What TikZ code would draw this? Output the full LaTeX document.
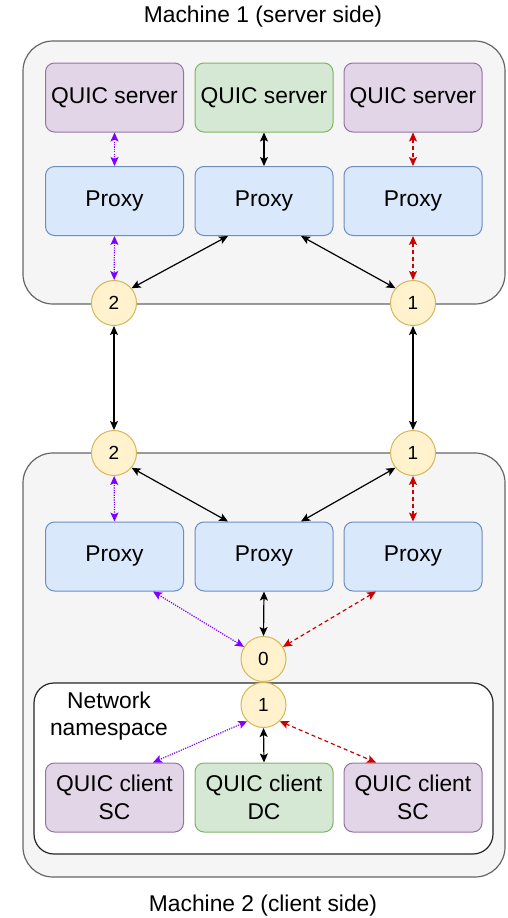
\documentclass[tikz,border=0pt]{standalone}
\usepackage{fontspec}
\setmainfont{Liberation Sans}
\usetikzlibrary{arrows.meta}
\definecolor{machfill}{HTML}{F5F5F5}
\definecolor{machdraw}{HTML}{666666}
\definecolor{purfill}{HTML}{E1D5E7}
\definecolor{purdraw}{HTML}{9673A6}
\definecolor{grnfill}{HTML}{D5E8D4}
\definecolor{grndraw}{HTML}{82B366}
\definecolor{blufill}{HTML}{DAE8FC}
\definecolor{bludraw}{HTML}{6C8EBF}
\definecolor{yelfill}{HTML}{FFF2CC}
\definecolor{yeldraw}{HTML}{D6B656}
\definecolor{violetline}{HTML}{7F00FF}
\definecolor{redline}{HTML}{CC0000}
\tikzset{
  txt/.style={font=\fontsize{22.8}{27.5}\selectfont, align=center},
  machine/.style={draw=machdraw, fill=machfill, line width=1.2pt, rounded corners=30pt,
    inner sep=0pt, minimum width=482pt},
  netns/.style={draw=black!85, fill=white, line width=1.2pt, rounded corners=20pt,
    inner sep=0pt, minimum width=459pt, minimum height=171pt},
  box/.style={txt, rounded corners=9pt, line width=1pt, minimum width=138pt,
    minimum height=69pt, inner sep=0pt},
  purbox/.style={box, draw=purdraw, fill=purfill},
  grnbox/.style={box, draw=grndraw, fill=grnfill},
  proxybox/.style={box, draw=bludraw, fill=blufill},
  port/.style={circle, draw=yeldraw, fill=yelfill, line width=1pt, minimum size=45pt,
    inner sep=0pt, font=\fontsize{19}{22}\selectfont},
  link/.style={<->, line width=1.2pt, >={Stealth[length=9pt,width=8pt,inset=2pt]}},
  blk/.style={link, draw=black},
  vio/.style={link, draw=violetline, dash pattern=on 1.2pt off 1.2pt},
  red/.style={link, draw=redline, dash pattern=on 4pt off 3pt},
}
\begin{document}
\begin{tikzpicture}[x=1pt, y=-1pt]
\useasboundingbox (0,0) rectangle (507,918);

% machines and the namespace
\node[machine, minimum height=263pt] (m1) at (264,172.5) {};
\node[txt] (m1label) at (263,17) {Machine 1 (server side)};
\node[machine, minimum height=424pt] (m2) at (264,665) {};
\node[txt] (m2label) at (263,906) {Machine 2 (client side)};
\node[netns] (ns) at (263.5,768.5) {};
\node[txt] (nslabel) at (109,716) {Network\\namespace};

% server side boxes
\node[purbox] (s1) at (114.5,97.5) {QUIC server};
\node[grnbox] (s2) at (264,97.5) {QUIC server};
\node[purbox] (s3) at (413,97.5) {QUIC server};
\node[proxybox] (p1) at (114.5,201) {Proxy};
\node[proxybox] (p2) at (264,201) {Proxy};
\node[proxybox] (p3) at (413,201) {Proxy};

% client side boxes
\node[proxybox] (q1) at (114.5,556.5) {Proxy};
\node[proxybox] (q2) at (264,556.5) {Proxy};
\node[proxybox] (q3) at (413,556.5) {Proxy};
\node[purbox] (c1) at (114.5,797.5) {QUIC client\\SC};
\node[grnbox] (c2) at (264,797.5) {QUIC client\\DC};
\node[purbox] (c3) at (413,797.5) {QUIC client\\SC};

% interfaces
\node[port] (a2) at (114,303) {2};
\node[port] (a1) at (413,303) {1};
\node[port] (b2) at (114,453) {2};
\node[port] (b1) at (413,453) {1};
\node[port] (n0) at (263.5,659) {0};
\node[port] (n1) at (263.5,705) {1};

% server side links
\draw[vio] (s1) -- (p1);
\draw[blk] (s2) -- (p2);
\draw[red] (s3) -- (p3);
\draw[vio] (p1.south) -- (a2);
\draw[red] (p3.south) -- (a1);
\draw[blk] ([xshift=-36pt]p2.south) -- (a2.40);
\draw[blk] ([xshift=37pt]p2.south) -- (a1.140);

% links between the machines
\draw[blk] (a2) -- (b2);
\draw[blk] (a1) -- (b1);

% client side links
\draw[vio] (b2) -- (q1.north);
\draw[red] (b1) -- (q3.north);
\draw[blk] (b2.-40) -- ([xshift=-36pt]q2.north);
\draw[blk] (b1.-140) -- ([xshift=37pt]q2.north);
\draw[vio] ([xshift=38.5pt]q1.south) -- (n0.148);
\draw[blk] (q2.south) -- (n0.north);
\draw[red] ([xshift=-37pt]q3.south) -- (n0.32);
\draw[vio] (n1.-135) -- ([xshift=38.5pt]c1.north);
\draw[blk] (n1.south) -- (c2.north);
\draw[red] (n1.-45) -- ([xshift=-37pt]c3.north);
\end{tikzpicture}
\end{document}
